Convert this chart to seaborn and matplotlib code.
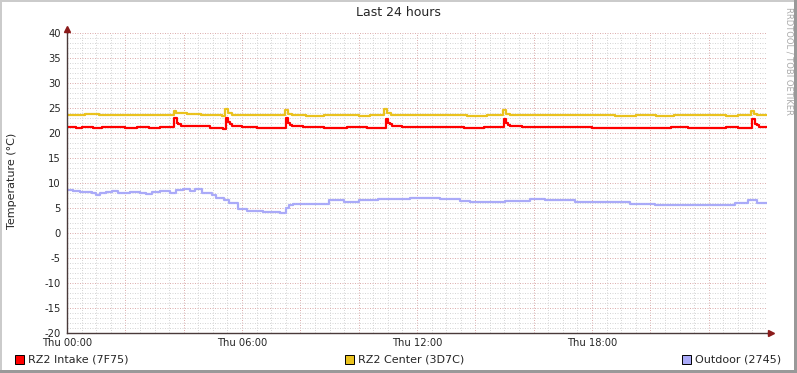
import numpy as np
import pandas as pd
import matplotlib
matplotlib.use("Agg")
import matplotlib.pyplot as plt
from matplotlib.patches import Rectangle
from matplotlib.lines import Line2D
import seaborn as sns

# ---------------- data (hours since Thu 00:00, temperature °C) ----------------
intake_h = [0, 0.3, 0.5, 0.9, 1.2, 1.7, 2.0, 2.4, 2.8, 3.2, 3.68, 3.76, 3.82, 3.9,
            4.35, 4.9, 5.35, 5.45, 5.52, 5.58, 5.66, 6.0, 6.5, 7.1, 7.5, 7.58,
            7.64, 7.7, 8.1, 8.8, 9.6, 10.3, 10.92, 11.0, 11.06, 11.14, 11.5, 12.3,
            13.0, 13.6, 14.3, 14.98, 15.06, 15.12, 15.2, 15.6, 16.2, 17.0, 18.0,
            19.0, 20.0, 20.7, 21.3, 22.0, 22.6, 23.0, 23.5, 23.58, 23.64, 23.72, 24.0]
intake_v = [21.2, 21.0, 21.2, 21.1, 21.3, 21.2, 21.1, 21.2, 21.1, 21.2, 23.1, 22.0, 21.8, 21.5,
            21.4, 21.1, 20.9, 23.1, 22.2, 21.8, 21.5, 21.3, 21.1, 21.1, 23.1, 22.0,
            21.6, 21.4, 21.2, 21.1, 21.2, 21.1, 22.9, 22.0, 21.8, 21.5, 21.3, 21.2,
            21.2, 21.1, 21.2, 22.9, 22.0, 21.6, 21.4, 21.3, 21.3, 21.2, 21.1,
            21.1, 21.1, 21.2, 21.1, 21.1, 21.2, 21.1, 22.8, 21.9, 21.6, 21.3, 21.3]

center_h = [0, 0.6, 1.1, 1.6, 2.2, 2.9, 3.4, 3.66, 3.74, 4.1, 4.6, 5.1, 5.3, 5.42,
            5.52, 5.65, 6.2, 6.6, 7.0, 7.48, 7.56, 7.7, 8.2, 8.8, 9.4, 10.0, 10.4,
            10.88, 10.96, 11.1, 11.7, 12.4, 13.1, 13.7, 14.4, 14.96, 15.04, 15.2,
            15.8, 16.6, 17.3, 18.0, 18.8, 19.5, 20.2, 20.8, 21.4, 22.0, 22.6, 23.0,
            23.46, 23.54, 23.66, 24.0]
center_v = [23.7, 23.8, 23.6, 23.7, 23.7, 23.6, 23.7, 24.5, 24.0, 23.8, 23.6, 23.7, 23.4, 24.8,
            24.1, 23.7, 23.6, 23.7, 23.6, 24.6, 23.9, 23.7, 23.5, 23.7, 23.6, 23.4, 23.7,
            24.9, 24.0, 23.7, 23.6, 23.7, 23.6, 23.5, 23.7, 24.6, 23.9, 23.7,
            23.7, 23.6, 23.7, 23.6, 23.5, 23.6, 23.5, 23.7, 23.6, 23.7, 23.5, 23.6,
            24.4, 23.9, 23.7, 23.7]

outdoor_h = [0, 0.2, 0.45, 0.86, 1.0, 1.13, 1.34, 1.54, 1.75, 2.16, 2.5, 2.71, 2.91,
             3.19, 3.53, 3.74, 3.98, 4.22, 4.39, 4.63, 4.97, 5.11, 5.38, 5.55, 5.86,
             6.16, 6.72, 7.3, 7.52, 7.62, 7.74, 8.97, 9.48, 10.0, 10.68, 11.76, 12.79,
             13.47, 13.82, 15.02, 15.87, 16.39, 17.42, 18.62, 19.30, 20.16, 22.90,
             23.24, 23.35, 23.65, 24.0]
outdoor_v = [8.7, 8.5, 8.3, 8.1, 7.6, 8.0, 8.2, 8.4, 8.1, 8.2, 8.0, 7.8, 8.2,
             8.4, 8.1, 8.6, 8.8, 8.4, 8.9, 8.0, 7.7, 7.0, 6.7, 6.1, 4.8,
             4.5, 4.3, 4.1, 5.0, 5.6, 5.9, 6.6, 6.3, 6.6, 6.8, 7.0, 6.8,
             6.5, 6.2, 6.4, 6.9, 6.6, 6.3, 6.2, 5.9, 5.7, 6.0,
             6.0, 6.6, 6.0, 6.0]

series_names = ["RZ2 Intake (7F75)", "RZ2 Center (3D7C)", "Outdoor (2745)"]
series_colors = ["#FF0000", "#EAC21E", "#AAAAF8"]
tick_hours = [0, 6, 12, 18]
tick_labels = ["Thu 00:00", "Thu 06:00", "Thu 12:00", "Thu 18:00"]

df = pd.concat([
    pd.DataFrame({"hour": outdoor_h, "temp": outdoor_v, "series": series_names[2]}),
    pd.DataFrame({"hour": intake_h, "temp": intake_v, "series": series_names[0]}),
    pd.DataFrame({"hour": center_h, "temp": center_v, "series": series_names[1]}),
], ignore_index=True)

# ---------------- figure ----------------
sns.set_style("white")
plt.rcParams["font.family"] = ["DejaVu Sans"]
plt.rcParams["axes.unicode_minus"] = False

W, H = 797, 373
fig = plt.figure(figsize=(W / 100, H / 100), dpi=100, facecolor="white")

def fx(px):
    return px / W

def fy(py):
    return 1 - py / H

ax = fig.add_axes([fx(67), fy(333), fx(767) - fx(67), fy(33) - fy(333)])
ax.set_facecolor("white")

palette = dict(zip(series_names, series_colors))
sns.lineplot(data=df, x="hour", y="temp", hue="series", palette=palette,
             estimator=None, sort=True, drawstyle="steps-post", linewidth=1.6,
             legend=False, ax=ax, zorder=3)

ax.set_xlim(0, 24)
ax.set_ylim(-20, 40)
ax.set_xticks(np.arange(0, 24.01, 2))
ax.set_xticks(np.arange(0, 24.01, 0.5), minor=True)
ax.set_xticklabels([tick_labels[tick_hours.index(int(t))] if int(t) in tick_hours else ""
                    for t in np.arange(0, 24.01, 2)])
ax.set_yticks(np.arange(-20, 40.1, 5))
ax.set_yticks(np.arange(-20, 40.1, 1), minor=True)
ax.set_yticklabels([f"{int(v)}" for v in np.arange(-20, 40.1, 5)])

ax.grid(which="minor", color="#D6D6D6", linestyle=(0, (1, 1.5)), linewidth=0.72, zorder=0)
ax.grid(which="major", color="#DDAFAF", linestyle=(0, (1, 1.5)), linewidth=0.72, zorder=1)
ax.set_axisbelow(True)

ax.tick_params(axis="both", which="major", labelsize=7.2, length=2.5, width=0.7,
               color="#7a4a4a", direction="out", pad=2)
ax.tick_params(axis="both", which="minor", length=1.5, width=0.5, color="#aaaaaa",
               direction="out")
ax.tick_params(axis="x", which="major", pad=1)
ax.set_xlabel("")
ax.set_ylabel("")

for s in ["top", "right"]:
    ax.spines[s].set_visible(False)
for s in ["left", "bottom"]:
    ax.spines[s].set_color("#4a3a3a")
    ax.spines[s].set_linewidth(1.0)
    ax.spines[s].set_zorder(4)

# axis arrows
ax.add_line(Line2D([1.0, 1.004], [0, 0], transform=ax.transAxes, color="#4a3a3a",
                   lw=1.0, clip_on=False))
ax.plot([1.006], [0], marker=">", markersize=4, color="#8B1A1A", transform=ax.transAxes,
        clip_on=False, zorder=5)
ax.add_line(Line2D([0, 0], [1.0, 1.01], transform=ax.transAxes, color="#4a3a3a",
                   lw=1.0, clip_on=False))
ax.plot([0], [1.015], marker="^", markersize=4, color="#8B1A1A", transform=ax.transAxes,
        clip_on=False, zorder=5)

# title, y label, watermark
fig.text(fx(398), fy(13), "Last 24 hours", ha="center", va="center", fontsize=9)
fig.text(fx(12), fy(181), "Temperature (°C)", ha="center", va="center",
         rotation=90, fontsize=8)
fig.text(fx(789), fy(7), "RRDTOOL / TOBI OETIKER", ha="center", va="top",
         rotation=270, fontsize=6, color="#AAAAAA")

# legend
leg_x = [15, 345, 682]
for x0, name, col in zip(leg_x, series_names, series_colors):
    fig.add_artist(Rectangle((fx(x0), fy(364)), fx(9), 9 / H, transform=fig.transFigure,
                             facecolor=col, edgecolor="black", linewidth=0.7))
    fig.text(fx(x0 + 13), fy(359), name, ha="left", va="center", fontsize=8)

# frame shading
fig.add_artist(Rectangle((0, fy(2)), 1, 2 / H, transform=fig.transFigure,
                         facecolor="#CBCBCB", edgecolor="none"))
fig.add_artist(Rectangle((0, 0), fx(2), 1, transform=fig.transFigure,
                         facecolor="#CBCBCB", edgecolor="none"))
fig.add_artist(Rectangle((0, 0), 1, 3 / H, transform=fig.transFigure,
                         facecolor="#999999", edgecolor="none"))
fig.add_artist(Rectangle((fx(794), 0), fx(3), 1, transform=fig.transFigure,
                         facecolor="#999999", edgecolor="none"))

fig.savefig("out.png", dpi=100, facecolor="white")
